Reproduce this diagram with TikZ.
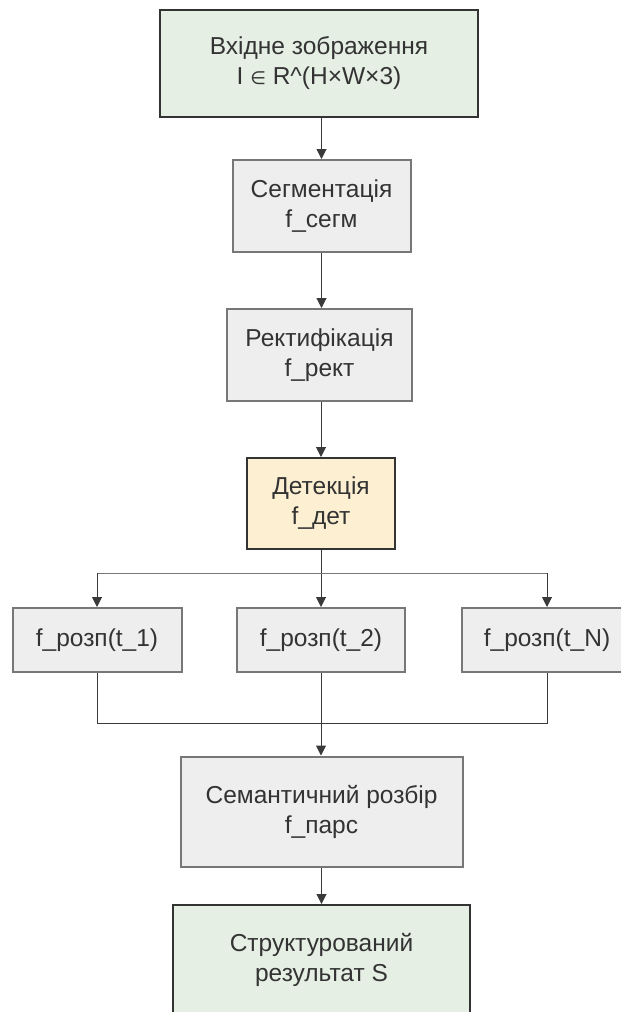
\documentclass[tikz,border=0pt]{standalone}
\usepackage{fontspec}
\setmainfont{Liberation Sans}
\newfontfamily\symfont{DejaVu Sans}
\usetikzlibrary{arrows.meta}
\definecolor{greenfill}{HTML}{E5EFE4}
\definecolor{grayfill}{HTML}{EEEEEE}
\definecolor{yellowfill}{HTML}{FDF0D2}
\definecolor{darkedge}{HTML}{333333}
\definecolor{grayedge}{HTML}{777777}
\definecolor{txt}{HTML}{333333}
\definecolor{conn}{HTML}{3A3A3A}
\begin{document}
\begin{tikzpicture}[x=1pt,y=-1pt,
  box/.style={draw, line width=2pt, align=center, inner sep=0pt, text=txt,
    font=\fontsize{24.5}{30}\selectfont},
  greenbox/.style={box, fill=greenfill, draw=darkedge},
  graybox/.style={box, fill=grayfill, draw=grayedge},
  yellowbox/.style={box, fill=yellowfill, draw=darkedge},
  link/.style={draw=conn, line width=1pt},
  arrow/.style={link, -{Triangle[length=10pt,width=10pt]}}]
\useasboundingbox (0,0) rectangle (621,1012);
\clip (0,0) rectangle (621,1012);
\fill[white] (0,0) rectangle (621,1012);

\node[greenbox, minimum width=318pt, minimum height=107pt] (b1) at (319,63.5) {Вхідне зображення\\I {\symfont\fontsize{18}{30}\selectfont ∈} R\^{}(H×W×3)};
\node[graybox, minimum width=178pt, minimum height=92pt] (b2) at (321.5,206) {Сегментація\\f\_сегм};
\node[graybox, minimum width=185pt, minimum height=92pt] (b3) at (319.5,355) {Ректифікація\\f\_рект};
\node[yellowbox, minimum width=148pt, minimum height=91pt] (b4) at (321,503.5) {Детекція\\f\_дет};
\node[graybox, minimum width=169pt, minimum height=64pt] (r1) at (97,640) {f\_розп(t\_1)};
\node[graybox, minimum width=168pt, minimum height=64pt] (r2) at (321,640) {f\_розп(t\_2)};
\node[graybox, minimum width=171pt, minimum height=64pt] (rN) at (547,640) {f\_розп(t\_N)};
\node[graybox, minimum width=282pt, minimum height=110pt] (sem) at (321.5,811.5) {Семантичний розбір\\f\_парс};
\node[greenbox, minimum width=297pt, minimum height=110pt] (out) at (321.5,960) {Структурований\\результат S};

\coordinate (split) at (321,573);
\coordinate (merge) at (321,723);

\draw[arrow] (b1.south -| b2.north) -- (b2.north);
\draw[arrow] (b2.south) -- (b2.south |- b3.north);
\draw[arrow] (b3.south -| b4.north) -- (b4.north);
\draw[arrow] (b4.south) -- (r2.north);
\draw[link, draw=grayedge] (r1.north |- split) -- (rN.north |- split);
\draw[arrow] (r1.north |- split) -- (r1.north);
\draw[arrow] (rN.north |- split) -- (rN.north);
\draw[link] (r1.south) -- (r1.south |- merge) -- (rN.south |- merge) -- (rN.south);
\draw[arrow] (r2.south) -- (r2.south |- sem.north);
\draw[arrow] (sem.south) -- (sem.south |- out.north);
\end{tikzpicture}
\end{document}
